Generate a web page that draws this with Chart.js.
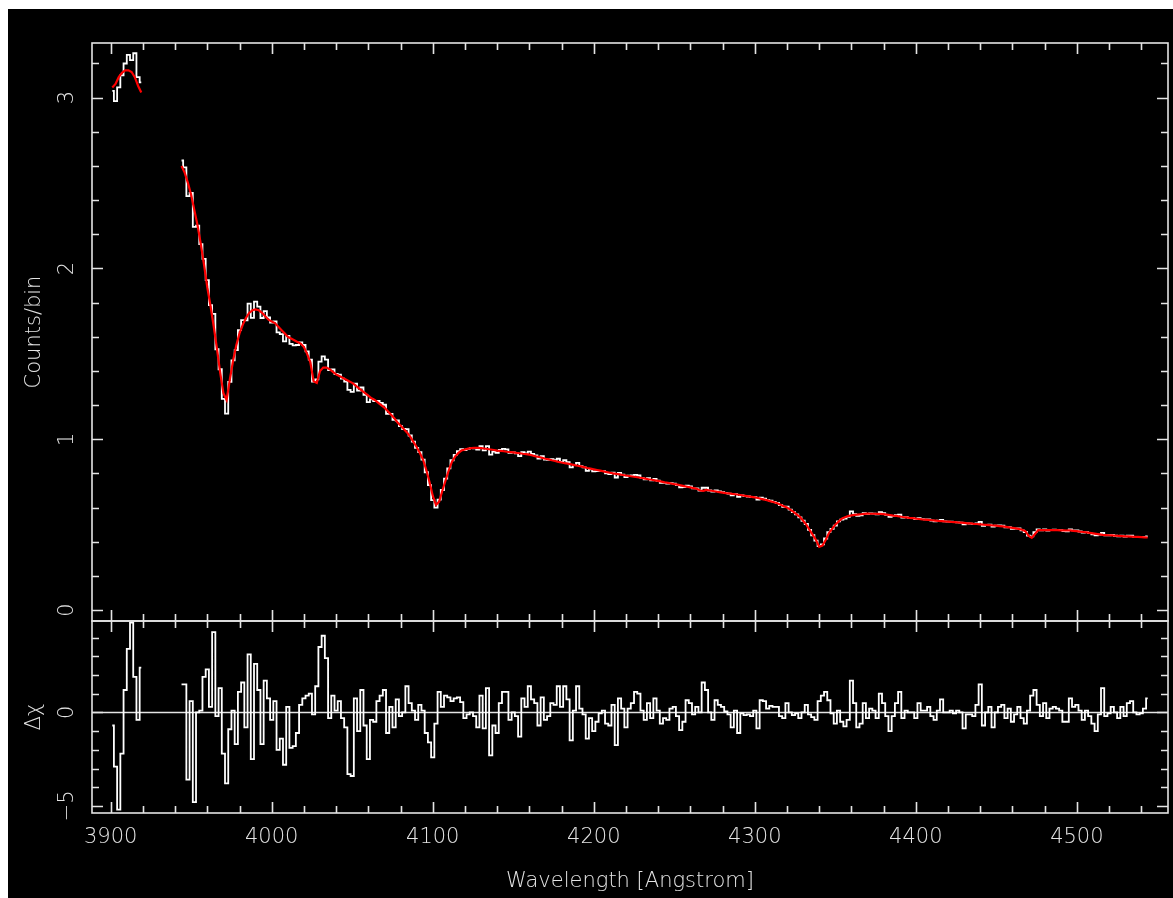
<!DOCTYPE html>
<html>
<head>
<meta charset="utf-8">
<title>Spectrum fit</title>
<script src="https://cdn.jsdelivr.net/npm/chart.js@4.4.1/dist/chart.umd.min.js"></script>
<style>
  html, body { margin: 0; padding: 0; background: #fff; }
  body { width: 1173px; height: 898px; position: relative; overflow: hidden; }
  #bg { position: absolute; left: 8px; top: 9px; right: 0; bottom: 0; background: #000; }
  canvas { position: absolute; left: 0; top: 0; }
</style>
</head>
<body>
<div id="bg"></div>
<canvas id="spec" width="1173" height="898"></canvas>
<canvas id="resid" width="1173" height="898"></canvas>
<script>
// ---- data (2 A bins) ----
// short blue chunk
const wave1   = [3901, 3903, 3905, 3907, 3909, 3911, 3913, 3915, 3917, 3919];
const counts1 = [3.04, 2.98, 3.06, 3.13, 3.20, 3.25, 3.22, 3.26, 3.12, 3.09];
const model1  = [3.06, 3.08, 3.12, 3.145, 3.16, 3.16, 3.15, 3.12, 3.07, 3.03];
const resid1  = [-0.7, -2.9, -5.2, -2.2, 1.2, 3.4, 4.8, 1.9, -0.4, 2.4];

// main chunk
const wave2 = [
  3944, 3946, 3948, 3950, 3952, 3954, 3956, 3958, 3960, 3962,
  3964, 3966, 3968, 3970, 3972, 3974, 3976, 3978, 3980, 3982,
  3984, 3986, 3988, 3990, 3992, 3994, 3996, 3998, 4000, 4002,
  4004, 4006, 4008, 4010, 4012, 4014, 4016, 4018, 4020, 4022,
  4024, 4026, 4028, 4030, 4032, 4034, 4036, 4038, 4040, 4042,
  4044, 4046, 4048, 4050, 4052, 4054, 4056, 4058, 4060, 4062,
  4064, 4066, 4068, 4070, 4072, 4074, 4076, 4078, 4080, 4082,
  4084, 4086, 4088, 4090, 4092, 4094, 4096, 4098, 4100, 4102,
  4104, 4106, 4108, 4110, 4112, 4114, 4116, 4118, 4120, 4122,
  4124, 4126, 4128, 4130, 4132, 4134, 4136, 4138, 4140, 4142,
  4144, 4146, 4148, 4150, 4152, 4154, 4156, 4158, 4160, 4162,
  4164, 4166, 4168, 4170, 4172, 4174, 4176, 4178, 4180, 4182,
  4184, 4186, 4188, 4190, 4192, 4194, 4196, 4198, 4200, 4202,
  4204, 4206, 4208, 4210, 4212, 4214, 4216, 4218, 4220, 4222,
  4224, 4226, 4228, 4230, 4232, 4234, 4236, 4238, 4240, 4242,
  4244, 4246, 4248, 4250, 4252, 4254, 4256, 4258, 4260, 4262,
  4264, 4266, 4268, 4270, 4272, 4274, 4276, 4278, 4280, 4282,
  4284, 4286, 4288, 4290, 4292, 4294, 4296, 4298, 4300, 4302,
  4304, 4306, 4308, 4310, 4312, 4314, 4316, 4318, 4320, 4322,
  4324, 4326, 4328, 4330, 4332, 4334, 4336, 4338, 4340, 4342,
  4344, 4346, 4348, 4350, 4352, 4354, 4356, 4358, 4360, 4362,
  4364, 4366, 4368, 4370, 4372, 4374, 4376, 4378, 4380, 4382,
  4384, 4386, 4388, 4390, 4392, 4394, 4396, 4398, 4400, 4402,
  4404, 4406, 4408, 4410, 4412, 4414, 4416, 4418, 4420, 4422,
  4424, 4426, 4428, 4430, 4432, 4434, 4436, 4438, 4440, 4442,
  4444, 4446, 4448, 4450, 4452, 4454, 4456, 4458, 4460, 4462,
  4464, 4466, 4468, 4470, 4472, 4474, 4476, 4478, 4480, 4482,
  4484, 4486, 4488, 4490, 4492, 4494, 4496, 4498, 4500, 4502,
  4504, 4506, 4508, 4510, 4512, 4514, 4516, 4518, 4520, 4522,
  4524, 4526, 4528, 4530, 4532, 4534, 4536, 4538, 4540, 4542,
  4544
];
const counts2 = [
  2.632, 2.592, 2.424, 2.442, 2.243, 2.25, 2.142, 2.056, 1.932, 1.785,
  1.734, 1.527, 1.410, 1.237, 1.15, 1.336, 1.462, 1.522, 1.639, 1.698,
  1.696, 1.794, 1.711, 1.806, 1.776, 1.710, 1.750, 1.713, 1.683, 1.690,
  1.626, 1.616, 1.573, 1.605, 1.558, 1.550, 1.552, 1.567, 1.552, 1.515,
  1.466, 1.338, 1.351, 1.455, 1.485, 1.466, 1.405, 1.409, 1.382, 1.379,
  1.355, 1.338, 1.289, 1.278, 1.326, 1.285, 1.303, 1.260, 1.218, 1.234,
  1.223, 1.224, 1.213, 1.202, 1.149, 1.149, 1.114, 1.110, 1.077, 1.060,
  1.059, 1.022, 0.986, 0.950, 0.925, 0.881, 0.807, 0.732, 0.644, 0.600,
  0.647, 0.703, 0.770, 0.830, 0.877, 0.909, 0.930, 0.942, 0.936, 0.944,
  0.948, 0.947, 0.940, 0.960, 0.935, 0.960, 0.910, 0.928, 0.920, 0.938,
  0.944, 0.941, 0.920, 0.923, 0.917, 0.901, 0.925, 0.917, 0.928, 0.914,
  0.906, 0.887, 0.901, 0.881, 0.880, 0.883, 0.878, 0.886, 0.868, 0.877,
  0.866, 0.835, 0.850, 0.862, 0.843, 0.836, 0.815, 0.824, 0.812, 0.814,
  0.815, 0.813, 0.801, 0.796, 0.805, 0.776, 0.803, 0.793, 0.778, 0.787,
  0.788, 0.792, 0.788, 0.774, 0.765, 0.772, 0.759, 0.768, 0.757, 0.745,
  0.745, 0.740, 0.743, 0.740, 0.732, 0.719, 0.720, 0.729, 0.724, 0.713,
  0.713, 0.700, 0.716, 0.716, 0.700, 0.693, 0.701, 0.695, 0.691, 0.686,
  0.682, 0.671, 0.679, 0.663, 0.671, 0.667, 0.665, 0.661, 0.661, 0.647,
  0.658, 0.653, 0.644, 0.640, 0.634, 0.628, 0.615, 0.605, 0.605, 0.588,
  0.573, 0.560, 0.543, 0.523, 0.504, 0.469, 0.438, 0.407, 0.375, 0.385,
  0.419, 0.456, 0.475, 0.494, 0.519, 0.530, 0.536, 0.546, 0.578, 0.562,
  0.551, 0.555, 0.568, 0.562, 0.566, 0.565, 0.560, 0.573, 0.567, 0.557,
  0.546, 0.551, 0.556, 0.559, 0.542, 0.544, 0.540, 0.538, 0.532, 0.538,
  0.532, 0.531, 0.531, 0.524, 0.520, 0.523, 0.528, 0.519, 0.518, 0.517,
  0.515, 0.514, 0.512, 0.502, 0.507, 0.506, 0.503, 0.508, 0.516, 0.493,
  0.499, 0.500, 0.488, 0.494, 0.495, 0.494, 0.484, 0.486, 0.476, 0.477,
  0.478, 0.467, 0.457, 0.436, 0.431, 0.456, 0.472, 0.466, 0.473, 0.465,
  0.470, 0.471, 0.470, 0.468, 0.462, 0.461, 0.473, 0.467, 0.466, 0.460,
  0.453, 0.456, 0.450, 0.444, 0.437, 0.442, 0.452, 0.437, 0.438, 0.440,
  0.435, 0.431, 0.436, 0.430, 0.435, 0.435, 0.429, 0.427, 0.427, 0.428,
  0.432
];
const model2 = [
  2.60, 2.56, 2.50, 2.43, 2.34, 2.25, 2.14, 2.02, 1.89, 1.78,
  1.66, 1.53, 1.39, 1.27, 1.23, 1.35, 1.46, 1.55, 1.62, 1.67,
  1.71, 1.74, 1.755, 1.76, 1.755, 1.74, 1.72, 1.70, 1.69, 1.68,
  1.66, 1.64, 1.62, 1.60, 1.59, 1.58, 1.57, 1.56, 1.54, 1.50,
  1.45, 1.34, 1.33, 1.40, 1.42, 1.42, 1.41, 1.395, 1.38, 1.37,
  1.36, 1.35, 1.34, 1.33, 1.315, 1.30, 1.285, 1.27, 1.255, 1.24,
  1.23, 1.215, 1.20, 1.185, 1.165, 1.145, 1.125, 1.10, 1.08, 1.06,
  1.04, 1.015, 0.985, 0.955, 0.92, 0.88, 0.82, 0.75, 0.67, 0.615,
  0.635, 0.70, 0.76, 0.82, 0.87, 0.90, 0.92, 0.935, 0.94, 0.945,
  0.948, 0.95, 0.95, 0.948, 0.946, 0.943, 0.94, 0.937, 0.934, 0.932,
  0.930, 0.927, 0.925, 0.923, 0.920, 0.918, 0.915, 0.913, 0.910, 0.905,
  0.900, 0.896, 0.891, 0.886, 0.882, 0.877, 0.873, 0.868, 0.864, 0.860,
  0.857, 0.853, 0.849, 0.845, 0.841, 0.837, 0.832, 0.828, 0.824, 0.820,
  0.816, 0.812, 0.808, 0.804, 0.800, 0.797, 0.794, 0.791, 0.788, 0.785,
  0.782, 0.779, 0.776, 0.773, 0.770, 0.766, 0.763, 0.759, 0.756, 0.752,
  0.748, 0.745, 0.741, 0.737, 0.734, 0.730, 0.726, 0.722, 0.718, 0.714,
  0.710, 0.700, 0.698, 0.703, 0.700, 0.697, 0.694, 0.691, 0.688, 0.685,
  0.683, 0.680, 0.678, 0.675, 0.672, 0.669, 0.666, 0.663, 0.660, 0.656,
  0.651, 0.647, 0.642, 0.636, 0.631, 0.625, 0.617, 0.608, 0.600, 0.588,
  0.575, 0.560, 0.546, 0.523, 0.500, 0.470, 0.440, 0.410, 0.370, 0.378,
  0.410, 0.450, 0.475, 0.500, 0.518, 0.535, 0.543, 0.550, 0.554, 0.557,
  0.559, 0.561, 0.563, 0.565, 0.564, 0.564, 0.563, 0.563, 0.562, 0.559,
  0.556, 0.553, 0.551, 0.548, 0.545, 0.543, 0.540, 0.538, 0.535, 0.533,
  0.531, 0.530, 0.528, 0.526, 0.524, 0.522, 0.521, 0.519, 0.518, 0.516,
  0.515, 0.513, 0.512, 0.510, 0.508, 0.507, 0.505, 0.504, 0.502, 0.500,
  0.499, 0.497, 0.495, 0.494, 0.492, 0.490, 0.487, 0.484, 0.481, 0.478,
  0.475, 0.470, 0.462, 0.435, 0.423, 0.445, 0.468, 0.468, 0.468, 0.468,
  0.468, 0.468, 0.468, 0.467, 0.467, 0.466, 0.466, 0.464, 0.462, 0.459,
  0.457, 0.455, 0.452, 0.449, 0.446, 0.443, 0.440, 0.439, 0.438, 0.437,
  0.435, 0.434, 0.433, 0.432, 0.431, 0.430, 0.429, 0.428, 0.427, 0.426,
  0.425
];
const resid2 = [
  1.5, 1.5, -3.6, 0.6, -4.8, 0.0, 0.1, 1.9, 2.3, 0.3,
  4.3, -0.2, 1.3, -2.2, -3.8, -0.9, 0.1, -1.7, 1.1, 1.6,
  -0.8, 3.1, -2.5, 2.6, 1.2, -1.7, 1.7, 0.75, -0.4, 0.6,
  -2.0, -1.4, -2.8, 0.3, -1.9, -1.8, -1.1, 0.4, 0.75, 0.9,
  1.0, -0.1, 1.4, 3.5, 4.1, 2.9, -0.3, 0.9, 0.1, 0.6,
  -0.3, -0.8, -3.3, -3.4, 0.75, -1.0, 1.2, -0.7, -2.5, -0.4,
  -0.5, 0.6, 0.9, 1.2, -1.1, 0.3, -0.8, 0.7, -0.2, 0.0,
  1.4, 0.5, 0.1, -0.4, 0.4, 0.1, -1.1, -1.6, -2.4, -0.6,
  1.1, 0.3, 0.9, 0.8, 0.6, 0.75, 0.8, 0.55, -0.3, -0.1,
  0.0, -0.2, -0.8, 0.9, -0.85, 1.3, -2.3, -0.7, -1.1, 0.5,
  1.1, 1.1, -0.4, 0.0, -0.2, -1.3, 0.75, 0.3, 1.4, 0.7,
  0.5, -0.7, 0.8, -0.4, -0.2, 0.5, 0.4, 1.4, 0.3, 1.4,
  0.7, -1.5, 0.1, 1.4, 0.2, -0.1, -1.4, -0.3, -1.0, -0.5,
  -0.05, 0.1, -0.6, -0.7, 0.4, -1.75, 0.75, 0.2, -0.8, 0.2,
  0.5, 1.1, 1.0, 0.1, -0.4, 0.5, -0.3, 0.75, 0.1, -0.6,
  -0.3, -0.4, 0.2, 0.3, -0.2, -0.95, -0.5, 0.65, 0.5, -0.1,
  0.3, 0.0, 1.6, 1.2, 0.0, -0.4, 0.65, 0.4, 0.3, 0.05,
  -0.1, -0.8, 0.1, -1.1, -0.05, -0.15, -0.1, -0.2, 0.1, -0.85,
  0.65, 0.6, 0.2, 0.35, 0.3, 0.3, -0.2, -0.3, 0.5, 0.0,
  -0.15, -0.05, -0.3, 0.0, 0.4, -0.1, -0.25, -0.4, 0.6, 0.9,
  1.1, 0.65, -0.05, -0.6, 0.1, -0.5, -0.75, -0.4, 1.7, 0.5,
  -0.8, -0.6, 0.5, -0.3, 0.2, 0.1, -0.3, 1.0, 0.5, -0.2,
  -1.0, -0.2, 0.5, 1.1, -0.3, 0.1, 0.0, 0.0, -0.3, 0.5,
  0.1, 0.1, 0.3, -0.2, -0.4, 0.1, 0.7, 0.0, 0.0, 0.1,
  -0.05, 0.1, 0.0, -0.85, -0.1, -0.1, -0.2, 0.4, 1.5, -0.7,
  0.0, 0.3, -0.8, 0.0, 0.3, 0.4, -0.3, 0.2, -0.5, -0.1,
  0.3, -0.3, -0.6, 0.1, 0.9, 1.2, 0.4, -0.2, 0.5, -0.3,
  0.2, 0.3, 0.2, 0.1, -0.5, -0.5, 0.75, 0.3, 0.4, 0.1,
  -0.4, 0.1, -0.2, -0.6, -1.0, -0.1, 1.3, -0.2, -0.05, 0.3,
  0.0, -0.3, 0.3, -0.2, 0.5, 0.6, 0.0, -0.1, -0.05, 0.2,
  0.75
];

// axis labels
const xTickLabels  = [3900, 4000, 4100, 4200, 4300, 4400, 4500];
const yTicksSpec   = [0, 1, 2, 3];
const yTicksResid  = [-5, 0];
const X_TITLE = 'Wavelength [Angstrom]';
const Y_TITLE_SPEC = 'Counts/bin';
const Y_TITLE_RESID = 'Δχ';

// ---- look ----
const FG = '#e4e4e4';
const FONT = '200 21px "DejaVu Sans", sans-serif';
const X_MIN = 3888.4, X_MAX = 4556.6;

const pts = (xs, ys) => xs.map((w, i) => ({ x: w, y: ys[i] }));

function vtext(ctx, s, x, y) {
  ctx.save();
  ctx.translate(x, y);
  ctx.rotate(-Math.PI / 2);
  ctx.textAlign = 'center';
  ctx.textBaseline = 'middle';
  ctx.fillText(s, 0, 0);
  ctx.restore();
}

// PGPLOT-ish box: frame, inward ticks on all sides, labels
const pgFrame = {
  id: 'pgFrame',
  beforeDatasetsDraw(chart, args, o) {
    if (!o.zeroLine) return;
    const { ctx, chartArea: a, scales: { y } } = chart;
    const py = Math.round(y.getPixelForValue(0)) + 0.5;
    ctx.save();
    ctx.strokeStyle = FG; ctx.lineWidth = 1.5;
    ctx.beginPath(); ctx.moveTo(a.left, py); ctx.lineTo(a.right, py); ctx.stroke();
    ctx.restore();
  },
  afterDatasetsDraw(chart, args, o) {
    const { ctx, chartArea: a, scales: { x, y } } = chart;
    ctx.save();
    ctx.strokeStyle = FG;
    ctx.lineWidth = 1.6;
    ctx.strokeRect(a.left, a.top, a.right - a.left, a.bottom - a.top);

    ctx.beginPath();
    // x ticks every 20 A, major every 100 A
    for (let v = 3900; v <= X_MAX; v += 20) {
      const px = Math.round(x.getPixelForValue(v)) + 0.5;
      const len = v % 100 === 0 ? 11 : 7;
      ctx.moveTo(px, a.top); ctx.lineTo(px, a.top + len);
      ctx.moveTo(px, a.bottom); ctx.lineTo(px, a.bottom - len);
    }
    // y ticks
    for (let i = 0; i < o.yCount; i++) {
      const v = o.yFrom + i * o.yStep;
      const py = Math.round(y.getPixelForValue(v)) + 0.5;
      const len = i % o.yEvery === 0 ? 11 : 7;
      ctx.moveTo(a.left, py); ctx.lineTo(a.left + len, py);
      ctx.moveTo(a.right, py); ctx.lineTo(a.right - len, py);
    }
    ctx.stroke();

    ctx.fillStyle = FG;
    ctx.font = FONT;
    o.yLabels.forEach(v => vtext(ctx, String(v).replace('-', '−'), 68, y.getPixelForValue(v)));
    vtext(ctx, o.yTitle, 35, (a.top + a.bottom) / 2);

    if (o.xLabels) {
      ctx.textAlign = 'center';
      ctx.textBaseline = 'alphabetic';
      xTickLabels.forEach(v => ctx.fillText(String(v), x.getPixelForValue(v), 843));
      ctx.fillText(X_TITLE, (a.left + a.right) / 2, 887);
    }
    ctx.restore();
  }
};

function makeChart(id, datasets, yMin, yMax, padding, frameOpts) {
  return new Chart(document.getElementById(id), {
    type: 'line',
    data: { datasets },
    options: {
      responsive: false,
      animation: false,
      devicePixelRatio: 1,
      events: [],
      layout: { padding },
      scales: {
        x: { type: 'linear', min: X_MIN, max: X_MAX, display: false },
        y: { type: 'linear', min: yMin, max: yMax, display: false }
      },
      elements: { point: { radius: 0 }, line: { tension: 0 } },
      plugins: { legend: { display: false }, tooltip: { enabled: false }, pgFrame: frameOpts }
    },
    plugins: [pgFrame]
  });
}

// higher order is drawn first, so the red fit sits on top of the white histogram
const hist = (data) => ({ data, order: 2, borderColor: '#ffffff', borderWidth: 1.8, stepped: 'middle', fill: false });
const fit  = (data) => ({ data, order: 1, borderColor: '#ff0000', borderWidth: 2.2, fill: false });

// top panel: counts + model
makeChart('spec', [
  hist(pts(wave1, counts1)),
  hist(pts(wave2, counts2)),
  fit(pts(wave1, model1)),
  fit(pts(wave2, model2))
], -0.064, 3.32, { left: 92, top: 43, right: 5, bottom: 277 }, {
  yFrom: 0, yStep: 0.2, yCount: 17, yEvery: 5,
  yLabels: yTicksSpec, yTitle: Y_TITLE_SPEC, xLabels: false, zeroLine: false
});

// bottom panel: residuals
makeChart('resid', [
  hist(pts(wave1, resid1)),
  hist(pts(wave2, resid2))
], -5.38, 4.89, { left: 92, top: 621, right: 5, bottom: 85 }, {
  yFrom: -5, yStep: 1, yCount: 10, yEvery: 5,
  yLabels: yTicksResid, yTitle: Y_TITLE_RESID, xLabels: true, zeroLine: true
});
</script>
</body>
</html>
